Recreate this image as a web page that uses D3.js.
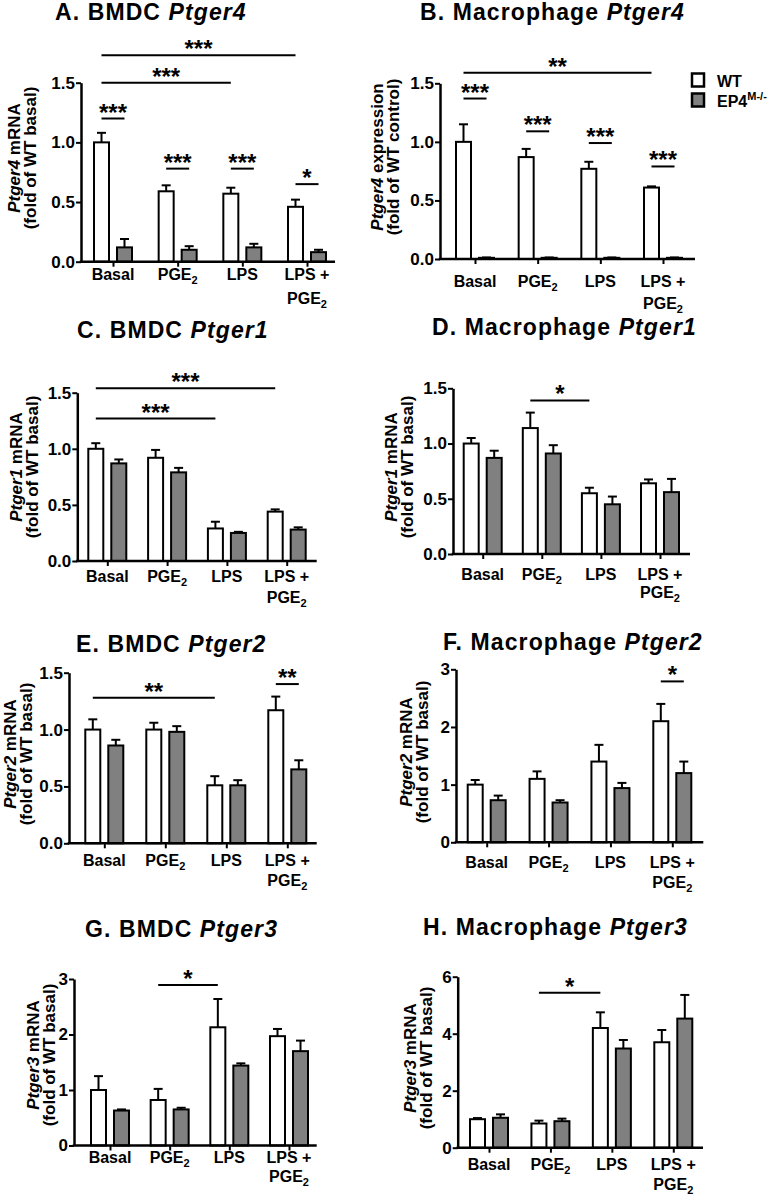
<!DOCTYPE html>
<html>
<head>
<meta charset="utf-8">
<script src="https://cdn.jsdelivr.net/npm/d3@7"></script>
<style>
  body { margin: 0; background: #fff; }
  svg { display: block; font-family: "Liberation Sans", Arial, sans-serif; }
</style>
</head>
<body>
<div id="chart-area"></div>
<script>
// groups on the x axis
var categories = ["Basal", "PGE2", "LPS", "LPS + PGE2"];

// y tick values
var ticks15 = [0, 0.5, 1.0, 1.5];
var ticks3 = [0, 1, 2, 3];
var ticks6 = [0, 2, 4, 6];

// A. BMDC Ptger4
var wtA = [1.00, 0.59, 0.57, 0.46];
var wtErrA = [0.08, 0.05, 0.05, 0.06];
var koA = [0.12, 0.10, 0.12, 0.08];
var koErrA = [0.07, 0.03, 0.03, 0.02];
var sigA = [
  {from: "Basal", to: "LPS + PGE2", level: 1.73, label: "***"},
  {from: "Basal", to: "LPS", level: 1.50, label: "***"},
  {pair: "Basal", level: 1.20, label: "***"},
  {pair: "PGE2", level: 0.78, label: "***"},
  {pair: "LPS", level: 0.78, label: "***"},
  {pair: "LPS + PGE2", level: 0.65, label: "*"}
];

// B. Macrophage Ptger4
var wtB = [1.00, 0.87, 0.77, 0.61];
var wtErrB = [0.15, 0.07, 0.06, 0.01];
var koB = [0.01, 0.01, 0.01, 0.01];
var koErrB = [0.003, 0.003, 0.003, 0.003];
var sigB = [
  {from: "Basal", to: "LPS + PGE2", level: 1.59, label: "**"},
  {pair: "Basal", level: 1.37, label: "***"},
  {pair: "PGE2", level: 1.09, label: "***"},
  {pair: "LPS", level: 0.99, label: "***"},
  {pair: "LPS + PGE2", level: 0.79, label: "***"}
];

// C. BMDC Ptger1
var wtC = [1.00, 0.92, 0.29, 0.44];
var wtErrC = [0.05, 0.07, 0.06, 0.02];
var koC = [0.87, 0.79, 0.25, 0.28];
var koErrC = [0.035, 0.04, 0.01, 0.02];
var sigC = [
  {from: "Basal", to: "LPS + PGE2", level: 1.54, label: "***"},
  {from: "Basal", to: "LPS", level: 1.27, label: "***"}
];

// D. Macrophage Ptger1
var wtD = [1.00, 1.14, 0.55, 0.64];
var wtErrD = [0.05, 0.14, 0.05, 0.035];
var koD = [0.87, 0.91, 0.45, 0.56];
var koErrD = [0.065, 0.075, 0.07, 0.12];
var sigD = [
  {from: "PGE2", to: "LPS", level: 1.39, label: "*"}
];

// E. BMDC Ptger2
var wtE = [1.00, 1.00, 0.51, 1.17];
var wtErrE = [0.09, 0.06, 0.08, 0.12];
var koE = [0.86, 0.98, 0.51, 0.65];
var koErrE = [0.05, 0.05, 0.045, 0.08];
var sigE = [
  {from: "Basal", to: "LPS", level: 1.28, label: "**"},
  {pair: "LPS + PGE2", level: 1.40, label: "**"}
];

// F. Macrophage Ptger2
var wtF = [1.00, 1.10, 1.40, 2.10];
var wtErrF = [0.08, 0.13, 0.29, 0.30];
var koF = [0.73, 0.69, 0.94, 1.20];
var koErrF = [0.08, 0.04, 0.09, 0.20];
var sigF = [
  {pair: "LPS + PGE2", level: 2.79, label: "*"}
];

// G. BMDC Ptger3
var wtG = [1.00, 0.82, 2.13, 1.97];
var wtErrG = [0.25, 0.20, 0.51, 0.13];
var koG = [0.63, 0.65, 1.44, 1.70];
var koErrG = [0.02, 0.03, 0.04, 0.19];
var sigG = [
  {from: "PGE2", to: "LPS", level: 2.89, label: "*"}
];

// H. Macrophage Ptger3
var wtH = [1.00, 0.85, 4.20, 3.70];
var wtErrH = [0.04, 0.10, 0.55, 0.43];
var koH = [1.05, 0.93, 3.48, 4.53];
var koErrH = [0.12, 0.09, 0.30, 0.83];
var sigH = [
  {from: "PGE2", to: "LPS", level: 5.44, label: "*"}
];

//panel layout (pixel positions only)
var panels = [
  {letter: "A. BMDC ", gene: "Ptger4", measure: " mRNA", unit: "(fold of WT basal)",
   wt: wtA, wtErr: wtErrA, ko: koA, koErr: koErrA, sig: sigA, ticks: ticks15, fmt: ".1f",
   axisX: 81, yTop: 82.7, yBot: 261.7, xEnd: 335, c0: 113, c3: 307,
   titleX: 55, titleY: 20, labX: 22, labY: 158, tickY: 18, lineGap: 24},
  {letter: "B. Macrophage ", gene: "Ptger4", measure: " expression", unit: "(fold of WT control)",
   wt: wtB, wtErr: wtErrB, ko: koB, koErr: koErrB, sig: sigB, ticks: ticks15, fmt: ".1f",
   axisX: 440, yTop: 83.3, yBot: 259, xEnd: 695, c0: 475, c3: 663,
   titleX: 420, titleY: 20, labX: 385, labY: 157, tickY: 28, lineGap: 22, legend: true},
  {letter: "C. BMDC ", gene: "Ptger1", measure: " mRNA", unit: "(fold of WT basal)",
   wt: wtC, wtErr: wtErrC, ko: koC, koErr: koErrC, sig: sigC, ticks: ticks15, fmt: ".1f",
   axisX: 77.3, yTop: 392.7, yBot: 561, xEnd: 316.7, c0: 107.3, c3: 286.7,
   titleX: 77, titleY: 338, labX: 24, labY: 467, tickY: 21, lineGap: 21},
  {letter: "D. Macrophage ", gene: "Ptger1", measure: " mRNA", unit: "(fold of WT basal)",
   wt: wtD, wtErr: wtErrD, ko: koD, koErr: koErrD, sig: sigD, ticks: ticks15, fmt: ".1f",
   axisX: 453, yTop: 388.3, yBot: 554, xEnd: 690, c0: 482.7, c3: 660,
   titleX: 432, titleY: 335, labX: 399, labY: 467, tickY: 26, lineGap: 18},
  {letter: "E. BMDC ", gene: "Ptger2", measure: " mRNA", unit: "(fold of WT basal)",
   wt: wtE, wtErr: wtErrE, ko: koE, koErr: koErrE, sig: sigE, ticks: ticks15, fmt: ".1f",
   axisX: 69, yTop: 672.7, yBot: 843.3, xEnd: 316.7, c0: 104.3, c3: 287.3,
   titleX: 76, titleY: 652, labX: 18, labY: 754, tickY: 23, lineGap: 20},
  {letter: "F. Macrophage ", gene: "Ptger2", measure: " mRNA", unit: "(fold of WT basal)",
   wt: wtF, wtErr: wtErrF, ko: koF, koErr: koErrF, sig: sigF, ticks: ticks3, fmt: "d",
   axisX: 456, yTop: 669.3, yBot: 842.3, xEnd: 703.3, c0: 486.7, c3: 672.3,
   titleX: 443, titleY: 650, labX: 414, labY: 752, tickY: 26, lineGap: 20},
  {letter: "G. BMDC ", gene: "Ptger3", measure: " mRNA", unit: "(fold of WT basal)",
   wt: wtG, wtErr: wtErrG, ko: koG, koErr: koErrG, sig: sigG, ticks: ticks3, fmt: "d",
   axisX: 74, yTop: 979, yBot: 1145.5, xEnd: 316.7, c0: 110, c3: 289,
   titleX: 85, titleY: 937, labX: 41, labY: 1055, tickY: 17.5, lineGap: 19},
  {letter: "H. Macrophage ", gene: "Ptger3", measure: " mRNA", unit: "(fold of WT basal)",
   wt: wtH, wtErr: wtErrH, ko: koH, koErr: koErrH, sig: sigH, ticks: ticks6, fmt: "d",
   axisX: 457.7, yTop: 976.7, yBot: 1147.7, xEnd: 703, c0: 489, c3: 673.3,
   titleX: 423, titleY: 935, labX: 418, labY: 1058, tickY: 22, lineGap: 20}
];

var barW = 15;     //bar width (stroke adds 2)
var barOff = 11.5; //distance of each bar from group centre
var grey = "#808080";

var svg = d3.select("#chart-area")
  .append("svg")
    .attr("width", 775)
    .attr("height", 1200);

//write "PGE2" with a subscript 2
function addLabel(sel, txt) {
  if (txt.indexOf("PGE2") >= 0) {
    var pre = txt.replace("PGE2", "");
    sel.append("tspan").text(pre + "PGE");
    sel.append("tspan").attr("font-size", 11).attr("dy", 4).text("2");
  } else {
    sel.text(txt);
  }
}

panels.forEach(function(p) {
  var ymax = d3.max(p.ticks);
  var y = d3.scaleLinear().domain([0, ymax]).range([p.yBot, p.yTop]);
  var x = d3.scalePoint().domain(categories).range([p.c0, p.c3]);
  var g = svg.append("g");

  //title
  var title = g.append("text")
    .attr("x", p.titleX)
    .attr("y", p.titleY)
    .attr("font-size", 23)
    .attr("letter-spacing", 1.1)
    .attr("font-weight", "bold");
  title.append("tspan").text(p.letter);
  title.append("tspan").attr("font-style", "italic").text(p.gene);

  //bars WT (white) and EP4 (grey)
  var groups = categories.map(function(c, i) {
    return [
      {cat: c, v: p.wt[i], e: p.wtErr[i], off: -barOff, fill: "#fff"},
      {cat: c, v: p.ko[i], e: p.koErr[i], off: barOff, fill: grey}
    ];
  });
  var bars = d3.merge(groups);

  //error bars first so the bar outline covers the base
  g.selectAll(".err")
    .data(bars)
    .enter().append("line")
      .attr("x1", d => x(d.cat) + d.off)
      .attr("x2", d => x(d.cat) + d.off)
      .attr("y1", d => y(d.v))
      .attr("y2", d => y(d.v + d.e))
      .attr("stroke", "#000")
      .attr("stroke-width", 2);
  g.selectAll(".cap")
    .data(bars)
    .enter().append("line")
      .attr("x1", d => x(d.cat) + d.off - 4.5)
      .attr("x2", d => x(d.cat) + d.off + 4.5)
      .attr("y1", d => y(d.v + d.e))
      .attr("y2", d => y(d.v + d.e))
      .attr("stroke", "#000")
      .attr("stroke-width", 2);

  g.selectAll("rect")
    .data(bars)
    .enter().append("rect")
      .attr("x", d => x(d.cat) + d.off - barW / 2)
      .attr("y", d => y(d.v))
      .attr("width", barW)
      .attr("height", d => p.yBot - y(d.v))
      .attr("fill", d => d.fill)
      .attr("stroke", "#000")
      .attr("stroke-width", 2);

  //y axis
  var yAxisCall = d3.axisLeft(y)
    .tickValues(p.ticks)
    .tickSize(5)
    .tickSizeOuter(0)
    .tickPadding(1)
    .tickFormat(d3.format(p.fmt));
  var ya = g.append("g")
    .attr("transform", "translate(" + p.axisX + ",0)")
    .call(yAxisCall);
  ya.select(".domain").attr("stroke-width", 2.5);
  ya.selectAll(".tick line").attr("stroke-width", 2);
  ya.selectAll(".tick text")
    .attr("font-size", 17)
    .attr("font-weight", "bold")
    .attr("font-family", "Liberation Sans, Arial, sans-serif")
    .attr("fill", "#000");

  //x axis
  var xAxisCall = d3.axisBottom(x)
    .tickSize(5)
    .tickSizeOuter(0)
    .tickFormat("");
  var xa = g.append("g")
    .attr("transform", "translate(0," + p.yBot + ")")
    .call(xAxisCall);
  xa.select(".domain").remove();
  xa.selectAll(".tick line").attr("stroke-width", 2);
  g.append("line")
    .attr("x1", p.axisX - 1.25)
    .attr("x2", p.xEnd)
    .attr("y1", p.yBot)
    .attr("y2", p.yBot)
    .attr("stroke", "#000")
    .attr("stroke-width", 2.5);

  //x tick labels, the last one on two lines
  categories.forEach(function(c) {
    var lines = c === "LPS + PGE2" ? ["LPS +", "PGE2"] : [c];
    lines.forEach(function(l, k) {
      var t = g.append("text")
        .attr("x", x(c))
        .attr("y", p.yBot + p.tickY + k * p.lineGap)
        .attr("text-anchor", "middle")
        .attr("font-size", 16)
        .attr("font-weight", "bold");
      addLabel(t, l);
    });
  });

  //y axis label
  var yl = g.append("g")
    .attr("transform", "translate(" + p.labX + "," + p.labY + ") rotate(-90)");
  var l1 = yl.append("text")
    .attr("x", 0).attr("y", -8.5)
    .attr("text-anchor", "middle")
    .attr("dominant-baseline", "central")
    .attr("font-size", 17)
    .attr("font-weight", "bold");
  l1.append("tspan").attr("font-style", "italic").text(p.gene);
  l1.append("tspan").text(p.measure);
  yl.append("text")
    .attr("x", 0).attr("y", 8.5)
    .attr("text-anchor", "middle")
    .attr("dominant-baseline", "central")
    .attr("font-size", 17)
    .attr("font-weight", "bold")
    .text(p.unit);

  //significance lines
  p.sig.forEach(function(s) {
    var x1, x2;
    if (s.pair) {
      x1 = x(s.pair) - barOff;
      x2 = x(s.pair) + barOff;
    } else {
      x1 = x(s.from) - barOff;
      x2 = x(s.to) - barOff;
    }
    g.append("line")
      .attr("x1", x1).attr("x2", x2)
      .attr("y1", y(s.level)).attr("y2", y(s.level))
      .attr("stroke", "#000")
      .attr("stroke-width", 2);
    g.append("text")
      .attr("x", (x1 + x2) / 2)
      .attr("y", y(s.level) + 2)
      .attr("text-anchor", "middle")
      .attr("font-size", 24)
      .attr("font-weight", "bold")
      .text(s.label);
  });

  //legend
  if (p.legend) {
    var leg = g.append("g");
    var items = [{name: "WT", fill: "#fff"}, {name: "EP4", sup: "M-/-", fill: grey}];
    items.forEach(function(it, i) {
      leg.append("rect")
        .attr("x", 692)
        .attr("y", 73.5 + i * 20)
        .attr("width", 12)
        .attr("height", 13)
        .attr("fill", it.fill)
        .attr("stroke", "#000")
        .attr("stroke-width", 2.5);
      var t = leg.append("text")
        .attr("x", 717)
        .attr("y", 87 + i * 20)
        .attr("font-size", 16)
        .attr("font-weight", "bold")
        .text(it.name);
      if (it.sup) {
        t.append("tspan").attr("font-size", 11).attr("dy", -7).text(it.sup);
      }
    });
  }
});
</script>
</body>
</html>
